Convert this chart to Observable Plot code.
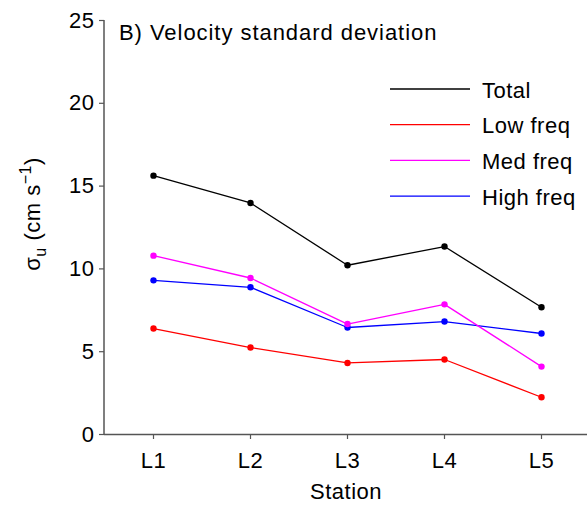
<!DOCTYPE html>
<html>
<head>
<meta charset="utf-8">
<script src="https://cdn.jsdelivr.net/npm/d3@7"></script>
<script src="https://cdn.jsdelivr.net/npm/@observablehq/plot@0.6"></script>
<style>
  html, body { margin: 0; padding: 0; background: #fff; }
  #wrap { position: relative; width: 587px; height: 508px; font-family: "Liberation Sans", Arial, Helvetica, sans-serif; }
  #wrap svg text { letter-spacing: 0.5px; }
  #wrap svg text.title { letter-spacing: 0.95px; }
</style>
</head>
<body>
<div id="wrap"></div>
<script>
const stations = ["L1", "L2", "L3", "L4", "L5"];
const total = [15.63, 13.98, 10.22, 11.35, 7.68];
const lowFreq = [6.40, 5.25, 4.32, 4.53, 2.25];
const medFreq = [10.80, 9.45, 6.67, 7.86, 4.10];
const highFreq = [9.31, 8.89, 6.46, 6.82, 6.10];
const seriesNames = ["Total", "Low freq", "Med freq", "High freq"];
const seriesColors = ["#000000", "#ff0000", "#ff00ff", "#0000ff"];
const yTicks = [0, 5, 10, 15, 20, 25];

const seriesValues = [total, lowFreq, medFreq, highFreq];
const rows = [];
seriesNames.forEach((name, i) => {
  stations.forEach((s, j) => rows.push({series: name, station: s, value: seriesValues[i][j]}));
});
const drawOrder = ["Total", "High freq", "Med freq", "Low freq"];

const marks = [];
drawOrder.forEach(name => {
  const d = rows.filter(r => r.series === name);
  const c = seriesColors[seriesNames.indexOf(name)];
  marks.push(Plot.line(d, {x: "station", y: "value", stroke: c, strokeWidth: 1.3}));
  marks.push(Plot.dot(d, {x: "station", y: "value", fill: c, r: 3.2}));
});

const FS = 22;
const plot = Plot.plot({
  width: 587,
  height: 508,
  marginLeft: 104,
  marginRight: 0,
  marginTop: 20,
  marginBottom: 74,
  style: {fontFamily: '"Liberation Sans", Arial, Helvetica, sans-serif', fontSize: FS + "px", color: "#000", background: "#fff"},
  x: {type: "point", domain: stations, range: [153, 541], padding: 0},
  y: {domain: [0, 25]},
  marks: [
    Plot.axisY({ticks: yTicks, tickSize: 5, tickPadding: 5, fontSize: FS, label: null, stroke: "#555", strokeWidth: 1.2, fill: "#000"}),
    Plot.axisX({tickSize: 5, tickPadding: 13, fontSize: FS, label: null, stroke: "#555", strokeWidth: 1.2, fill: "#000"}),
    Plot.ruleY([0], {stroke: "#555", strokeWidth: 1.5}),
    ...marks
  ]
});

const wrap = document.getElementById("wrap");
wrap.appendChild(plot);

const ys = plot.scale("y");
const svg = d3.select(plot);
const y0 = ys.range[0], y1 = ys.range[1];
svg.append("line").attr("x1", 104).attr("x2", 104).attr("y1", y0).attr("y2", y1)
  .attr("stroke", "#555").attr("stroke-width", 1.5);

svg.append("text").attr("class", "title").attr("x", 119).attr("y", 40)
  .attr("text-anchor", "start").attr("font-size", FS).attr("fill", "#000")
  .text("B) Velocity standard deviation");

svg.append("text").attr("x", 346).attr("y", 499)
  .attr("text-anchor", "middle").attr("font-size", FS).attr("fill", "#000")
  .text("Station");

const yl = svg.append("text")
  .attr("transform", "translate(40,214) rotate(-90)")
  .attr("text-anchor", "middle").attr("font-size", FS).attr("fill", "#000");
yl.append("tspan").text("σ");
yl.append("tspan").attr("dy", 6).attr("font-size", 16).text("u");
yl.append("tspan").attr("dy", -6).text(" (cm s");
yl.append("tspan").attr("dy", -9).attr("font-size", 16).text("−1");
yl.append("tspan").attr("dy", 9).text(")");

// legend
const lgG = svg.append("g").attr("class", "legend");
seriesNames.forEach((n, i) => {
  const yy = 89 + i * 35.7;
  lgG.append("line").attr("x1", 390).attr("x2", 470).attr("y1", yy).attr("y2", yy)
    .attr("stroke", seriesColors[i]).attr("stroke-width", 1.3);
  lgG.append("text").attr("x", 482).attr("y", yy + 8.5)
    .attr("text-anchor", "start").attr("font-size", FS).attr("fill", "#000").text(n);
});
</script>
</body>
</html>
